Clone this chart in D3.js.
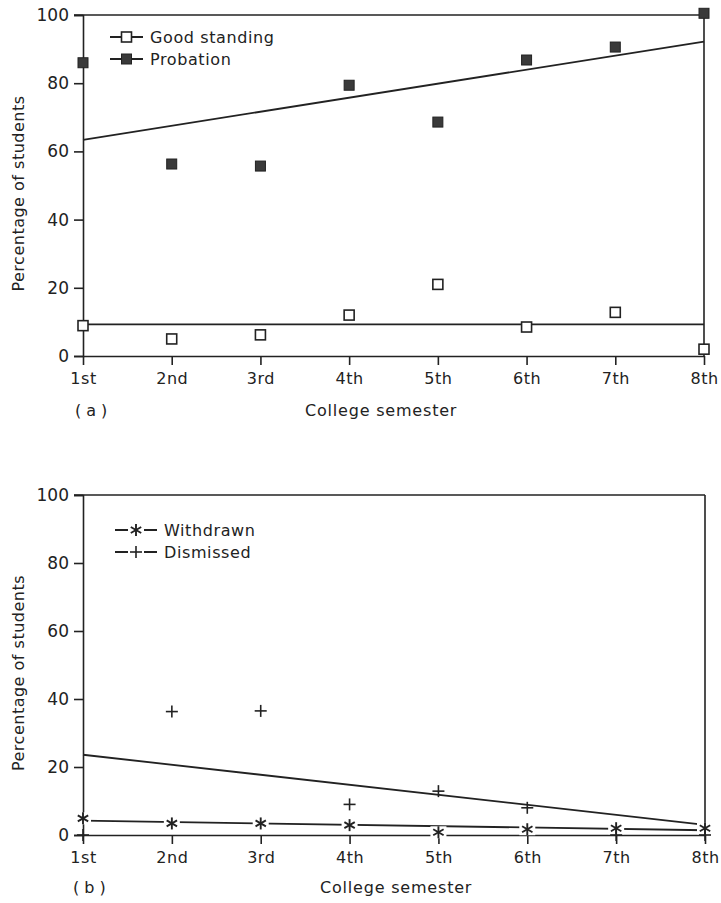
<!DOCTYPE html>
<html>
<head>
<meta charset="utf-8">
<script src="https://cdn.jsdelivr.net/npm/d3@7"></script>
<style>
    html, body { margin: 0; padding: 0; background: #fff; }
    svg { display: block; }
    text { font-family: "DejaVu Sans", sans-serif; fill: #222; }
</style>
</head>
<body>
<div id="chart"></div>
<script>
// Percentage of students by college semester, two panels

const semesters = ['1st', '2nd', '3rd', '4th', '5th', '6th', '7th', '8th'];
const yTicks = [0, 20, 40, 60, 80, 100];

// panel (a)
const goodStanding = [8.9, 5.0, 6.2, 12.0, 21.0, 8.5, 12.8, 2.0];
const probation = [86.0, 56.3, 55.7, 79.4, 68.6, 86.8, 90.6, 100.5];
const goodTrend = [9.3, 9.3];      // fitted line at 1st and 8th
const probationTrend = [63.4, 92.2];

// panel (b)
const withdrawn = [4.9, 3.4, 3.4, 2.9, 0.8, 1.7, 2.0, 2.0];
const dismissed = [0, 36.3, 36.5, 9.0, 12.9, 8.0, 0, 0];
const withdrawnTrend = [4.2, 1.4];
const dismissedTrend = [23.6, 3.0];

const INK = '#222';

const svg = d3.select('#chart').append('svg')
    .attr('width', 721)
    .attr('height', 903);

// marker drawing helpers
function squareOpen(g) {
    g.append('rect').attr('x', -5).attr('y', -5).attr('width', 10).attr('height', 10)
        .attr('fill', '#fff').attr('stroke', INK).attr('stroke-width', 1.6);
}
function squareFilled(g) {
    g.append('rect').attr('x', -5).attr('y', -5).attr('width', 10).attr('height', 10)
        .attr('fill', '#3a3a3a').attr('stroke', '#222').attr('stroke-width', 1);
}
function star(g) {
    g.append('rect').attr('x', -8).attr('y', -6).attr('width', 16).attr('height', 12).attr('fill', '#fff');
    const r = 6;
    [90, 30, 150].forEach(a => {
        const rad = a * Math.PI / 180;
        g.append('line')
            .attr('x1', -r * Math.cos(rad)).attr('y1', -r * Math.sin(rad))
            .attr('x2', r * Math.cos(rad)).attr('y2', r * Math.sin(rad))
            .attr('stroke', INK).attr('stroke-width', 1.9);
    });
}
function plus(g) {
    g.append('line').attr('x1', -6).attr('x2', 6).attr('y1', 0).attr('y2', 0)
        .attr('stroke', INK).attr('stroke-width', 1.6);
    g.append('line').attr('x1', 0).attr('x2', 0).attr('y1', -6).attr('y2', 6)
        .attr('stroke', INK).attr('stroke-width', 1.6);
}

function drawPanel(p) {
    const x = d3.scalePoint().domain(semesters).range([p.left, p.right]);
    const y = d3.scaleLinear().domain([0, 100]).range([p.bottom, p.top]);
    const g = svg.append('g');

    // y axis with ticks
    const yAxis = g.append('g')
        .attr('transform', `translate(${p.left},0)`)
        .call(d3.axisLeft(y).tickValues(yTicks).tickSize(9).tickPadding(5));
    yAxis.select('.domain').attr('stroke', INK).attr('stroke-width', 1.6);
    yAxis.selectAll('.tick line').attr('stroke', INK).attr('stroke-width', 1.6);
    yAxis.selectAll('.tick text')
        .style('font-size', '17px').style('font-family', '"DejaVu Sans", sans-serif')
        .attr('fill', INK);

    // x axis with ticks
    const xAxis = g.append('g')
        .attr('transform', `translate(0,${p.bottom})`)
        .call(d3.axisBottom(x).tickSize(9).tickPadding(8).tickSizeOuter(0));
    xAxis.select('.domain').attr('stroke', INK).attr('stroke-width', 1.6);
    xAxis.selectAll('.tick line').attr('stroke', INK).attr('stroke-width', 1.6);
    xAxis.selectAll('.tick text')
        .style('font-size', '16px').style('font-family', '"DejaVu Sans", sans-serif')
        .attr('fill', INK).attr('letter-spacing', '0.5px');

    // top and right frame lines
    g.append('line')
        .attr('x1', p.left - 9).attr('x2', p.right)
        .attr('y1', y(100)).attr('y2', y(100))
        .attr('stroke', INK).attr('stroke-width', 1.6);
    g.append('line')
        .attr('x1', p.right).attr('x2', p.right)
        .attr('y1', y(100)).attr('y2', y(0))
        .attr('stroke', INK).attr('stroke-width', 1.6);

    // fitted lines
    p.trends.forEach(t => {
        g.append('line')
            .attr('x1', x(semesters[0])).attr('y1', y(t[0]))
            .attr('x2', x(semesters[semesters.length - 1])).attr('y2', y(t[1]))
            .attr('stroke', INK).attr('stroke-width', 1.8);
    });

    // data markers
    p.series.forEach(s => {
        s.values.forEach((v, i) => {
            const m = g.append('g').attr('transform', `translate(${x(semesters[i])},${y(v)})`);
            s.marker(m);
        });
    });

    // legend
    p.series.forEach((s, i) => {
        const ly = p.legendY + i * p.legendGap;
        const lg = g.append('g');
        lg.append('line')
            .attr('x1', p.legendX).attr('x2', p.legendX + p.legendW)
            .attr('y1', ly).attr('y2', ly)
            .attr('stroke', INK).attr('stroke-width', 1.8);
        const m = lg.append('g').attr('transform', `translate(${p.legendX + p.legendW / 2},${ly})`);
        if (s.marker === plus) {
            m.append('rect').attr('x', -8).attr('y', -3).attr('width', 16).attr('height', 6).attr('fill', '#fff');
        }
        s.marker(m);
        lg.append('text')
            .attr('x', p.legendX + p.legendW + 7).attr('y', ly)
            .attr('dy', '0.36em')
            .attr('letter-spacing', '0.6px')
            .style('font-size', '16px')
            .text(s.name);
    });

    // axis titles
    g.append('text')
        .attr('transform', `translate(${p.titleX},${(y(0) + y(100)) / 2 + 8}) rotate(-90)`)
        .attr('text-anchor', 'middle')
        .attr('letter-spacing', '0.5px')
        .style('font-size', '16px')
        .text('Percentage of students');
    g.append('text')
        .attr('x', p.xTitleX).attr('y', p.xTitleY)
        .attr('letter-spacing', '0.8px')
        .style('font-size', '16px')
        .text('College semester');
    g.append('text')
        .attr('x', p.tagX).attr('y', p.xTitleY)
        .attr('letter-spacing', '5px')
        .style('font-size', '16px')
        .text(p.tag);
}

drawPanel({
    left: 83, right: 704, top: 15, bottom: 356,
    trends: [goodTrend, probationTrend],
    series: [
        { name: 'Good standing', values: goodStanding, marker: squareOpen },
        { name: 'Probation', values: probation, marker: squareFilled }
    ],
    legendX: 110, legendW: 33, legendY: 37, legendGap: 22,
    titleX: 24, xTitleX: 305, xTitleY: 416, tagX: 75, tag: '(a)'
});

drawPanel({
    left: 83, right: 705, top: 495, bottom: 835,
    trends: [withdrawnTrend, dismissedTrend],
    series: [
        { name: 'Withdrawn', values: withdrawn, marker: star },
        { name: 'Dismissed', values: dismissed, marker: plus }
    ],
    legendX: 115, legendW: 42, legendY: 530, legendGap: 22,
    titleX: 24, xTitleX: 320, xTitleY: 893, tagX: 73, tag: '(b)'
});
</script>
</body>
</html>
